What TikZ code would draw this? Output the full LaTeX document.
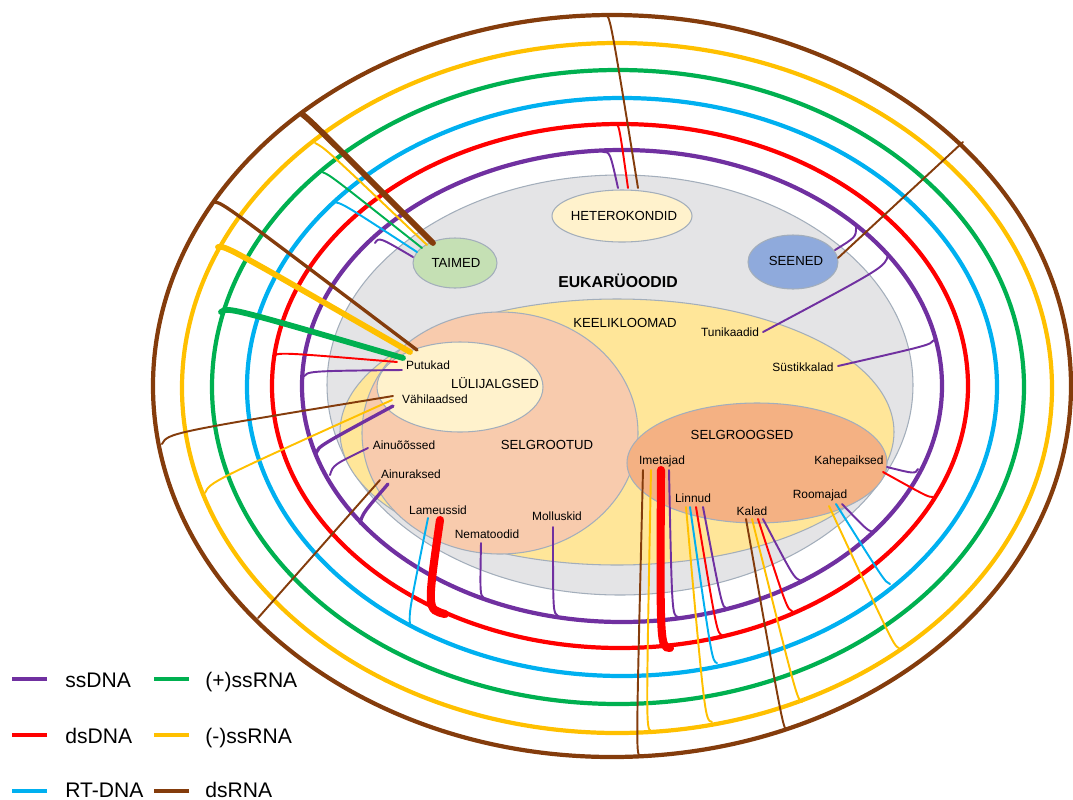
\documentclass[tikz,border=0pt]{standalone}
\usepackage{fontspec}
\setmainfont{Liberation Sans}

\definecolor{ssdnacol}{HTML}{7030A0}
\definecolor{dsdnacol}{HTML}{FF0000}
\definecolor{rtdnacol}{HTML}{00B0F0}
\definecolor{possrnacol}{HTML}{00B050}
\definecolor{negssrnacol}{HTML}{FFC000}
\definecolor{dsrnacol}{HTML}{843C0C}
\definecolor{eukfill}{HTML}{E4E4E6}
\definecolor{keelfill}{HTML}{FFE699}
\definecolor{selgrootfill}{HTML}{F8CBAD}
\definecolor{lylifill}{HTML}{FFF2CC}
\definecolor{selgroogfill}{HTML}{F4B183}
\definecolor{taimfill}{HTML}{C5E0B4}
\definecolor{seenfill}{HTML}{8FAADC}
\definecolor{rimcol}{HTML}{A3AEBB}

\begin{document}
\begin{tikzpicture}[x=0.02cm, y=-0.02cm,
    ring/.style={line width=2.4pt},
    lnk/.style={line width=1.1pt, line cap=round},
    lnkmid/.style={line width=1.9pt, line cap=round},
    lnkfat/.style={line width=3.3pt, line cap=round},
    lnkhuge/.style={line width=4.6pt, line cap=round},
    blob/.style={draw=rimcol, line width=0.6pt},
    grp/.style={font=\fontsize{7.5}{9}\selectfont},
    sp/.style={font=\fontsize{6.8}{8}\selectfont},
    leg/.style={font=\fontsize{12}{14}\selectfont, anchor=base west, inner sep=0pt}]
  \useasboundingbox (0,0) rectangle (1073,799);

  % groups
  \filldraw[blob, fill=eukfill] (620,385) ellipse (293 and 210);
  \filldraw[blob, fill=keelfill] (617,432) ellipse (277 and 133);
  \filldraw[blob, fill=selgrootfill] (500,433) ellipse (138 and 121);
  \filldraw[blob, fill=lylifill] (460,387) ellipse (83 and 45);
  \filldraw[blob, fill=selgroogfill] (757,463) ellipse (130 and 60);
  \filldraw[blob, fill=taimfill] (455,263) ellipse (42 and 25);
  \filldraw[blob, fill=lylifill] (622,216) ellipse (70 and 26);
  \filldraw[blob, fill=seenfill] (793,262) ellipse (45 and 27);

  % rings
  \draw[ring, dsrnacol] (612,386) ellipse (459 and 371);
  \draw[ring, negssrnacol] (617,388) ellipse (435 and 345);
  \draw[ring, possrnacol] (618,387) ellipse (406 and 317);
  \draw[ring, rtdnacol] (622,387) ellipse (375 and 289);
  \draw[ring, dsdnacol] (620,386) ellipse (348 and 262);
  \draw[ring, ssdnacol] (622,386) ellipse (320 and 236);

  % labels
  \node[font=\bfseries\fontsize{9}{11}\selectfont] (eukaryoodid) at (618,281) {EUKARÜOODID};
  \node[grp] (keelikloomad) at (625,323) {KEELIKLOOMAD};
  \node[grp] (taimed) at (456,263) {TAIMED};
  \node[grp] (heterokondid) at (624,216) {HETEROKONDID};
  \node[grp] (seened) at (796,261) {SEENED};
  \node[grp] (lylijalgsed) at (495,383) {LÜLIJALGSED};
  \node[grp] (selgrootud) at (547,445) {SELGROOTUD};
  \node[grp] (selgroogsed) at (742,435) {SELGROOGSED};
  \node[sp] (tunikaadid) at (730,332) {Tunikaadid};
  \node[sp] (systikkalad) at (803,367) {Süstikkalad};
  \node[sp] (putukad) at (428,365) {Putukad};
  \node[sp] (vahilaadsed) at (435,399) {Vähilaadsed};
  \node[sp] (ainuoossed) at (404,445) {Ainuõõssed};
  \node[sp] (ainuraksed) at (411,474) {Ainuraksed};
  \node[sp] (lameussid) at (438,510) {Lameussid};
  \node[sp] (nematoodid) at (487,534) {Nematoodid};
  \node[sp] (molluskid) at (557,516) {Molluskid};
  \node[sp] (imetajad) at (662,461) {Imetajad};
  \node[sp] (linnud) at (693,498) {Linnud};
  \node[sp] (kalad) at (752,511) {Kalad};
  \node[sp] (roomajad) at (820,495) {Roomajad};
  \node[sp] (kahepaiksed) at (849,461) {Kahepaiksed};

  % where the links meet the rings
  \coordinate (taimed-br) at (302,114);
  \coordinate (taimed-ye) at (315,143);
  \coordinate (taimed-gr) at (322,172);
  \coordinate (taimed-bl) at (333,202);
  \coordinate (taimed-pu) at (375,243);
  \coordinate (putukad-br) at (215,202);
  \coordinate (putukad-ye) at (218,247);
  \coordinate (putukad-gr) at (221,312);
  \coordinate (putukad-re) at (273,357);
  \coordinate (putukad-pu) at (303,377);
  \coordinate (vahil-br) at (162,444);
  \coordinate (vahil-ye) at (205,493);
  \coordinate (vahil-pu) at (316,453);
  \coordinate (ainuoo-pu) at (330,475);
  \coordinate (ainur-br) at (258,618);
  \coordinate (ainur-pu) at (360,523);
  \coordinate (lame-bl) at (410,625);
  \coordinate (lame-re) at (445,614);
  \coordinate (nema-pu) at (484,598);
  \coordinate (moll-pu) at (558,616);
  \coordinate (imet-br) at (640,756);
  \coordinate (imet-ye) at (651,731);
  \coordinate (imet-re) at (670,648);
  \coordinate (imet-pu) at (678,617);
  \coordinate (linn-ye) at (712,722);
  \coordinate (linn-bl) at (717,663);
  \coordinate (linn-re) at (722,635);
  \coordinate (linn-pu) at (727,609);
  \coordinate (kala-br) at (787,730);
  \coordinate (kala-ye) at (802,702);
  \coordinate (kala-re) at (793,612);
  \coordinate (kala-pu) at (801,581);
  \coordinate (room-ye) at (899,648);
  \coordinate (room-bl) at (890,584);
  \coordinate (room-pu) at (873,532);
  \coordinate (kahe-pu) at (918,469);
  \coordinate (kahe-re) at (933,497);
  \coordinate (tuni-pu) at (888,255);
  \coordinate (systi-pu) at (934,340);
  \coordinate (seen-pu) at (856,227);
  \coordinate (seen-br) at (963,142);
  \coordinate (hete-pu) at (603,152);
  \coordinate (hete-re) at (615,124);
  \coordinate (hete-br) at (605,15);

  % links
  \draw[lnkfat, dsrnacol] ([shift={(-23,-20)}]taimed.center) .. controls (312,122) .. (taimed-br);
  \draw[lnk, negssrnacol] ([shift={(-29,-18)}]taimed.center) .. controls (325,148) .. (taimed-ye);
  \draw[lnk, possrnacol] ([shift={(-34,-15)}]taimed.center) .. controls (330,175) .. (taimed-gr);
  \draw[lnk, rtdnacol] ([shift={(-39,-11)}]taimed.center) .. controls (342,203) .. (taimed-bl);
  \draw[lnk, ssdnacol] ([shift={(-43,-6)}]taimed.center) .. controls (379,237) .. (taimed-pu);

  \draw[lnkmid, dsrnacol] ([shift={(-11,-15)}]putukad.center) .. controls (224,204) .. (putukad-br);
  \draw[lnkfat, negssrnacol] ([shift={(-18,-13)}]putukad.center) .. controls (226,246) .. (putukad-ye);
  \draw[lnkfat, possrnacol] ([shift={(-25,-7)}]putukad.center) .. controls (228,307) .. (putukad-gr);
  \draw[lnk, dsdnacol] ([shift={(-31,-3)}]putukad.center) .. controls (277,352) .. (putukad-re);
  \draw[lnk, ssdnacol] ([shift={(-26,5)}]putukad.center) .. controls (308,371) .. (putukad-pu);

  \draw[lnk, dsrnacol] ([shift={(-42,-3)}]vahilaadsed.center) .. controls (168,433) .. (vahil-br);
  \draw[lnk, negssrnacol] ([shift={(-43,1)}]vahilaadsed.center) .. controls (210,482) .. (vahil-ye);
  \draw[lnkmid, ssdnacol] ([shift={(-42,7)}]vahilaadsed.center) .. controls (319,446) .. (vahil-pu);

  \draw[lnk, ssdnacol] ([shift={(-36,3)}]ainuoossed.center) .. controls (333,465) .. (ainuoo-pu);
  \draw[lnk, dsrnacol] ([shift={(-31,6)}]ainuraksed.center) -- (ainur-br);
  \draw[lnkmid, ssdnacol] ([shift={(-23,10)}]ainuraksed.center) .. controls (363,513) .. (ainur-pu);

  \draw[lnk, rtdnacol] ([shift={(-10,8)}]lameussid.center) .. controls (409,612) .. (lame-bl);
  \draw[lnkhuge, dsdnacol] ([shift={(2,10)}]lameussid.center) .. controls (427,610) .. (lame-re);
  \draw[lnk, ssdnacol] ([shift={(-6,9)}]nematoodid.center) .. controls (480,595) .. (nema-pu);
  \draw[lnk, ssdnacol] ([shift={(-4,11)}]molluskid.center) .. controls (553,613) .. (moll-pu);

  \draw[lnk, dsrnacol] ([shift={(-19,9)}]imetajad.center) .. controls (636,753) .. (imet-br);
  \draw[lnk, negssrnacol] ([shift={(-11,9)}]imetajad.center) .. controls (646,728) .. (imet-ye);
  \draw[lnkhuge, dsdnacol] ([shift={(-1,9)}]imetajad.center) .. controls (660,647) .. (imet-re);
  \draw[lnk, ssdnacol] ([shift={(7,9)}]imetajad.center) .. controls (672,615) .. (imet-pu);

  \draw[lnk, negssrnacol] ([shift={(-7,9)}]linnud.center) .. controls (705,720) .. (linn-ye);
  \draw[lnk, rtdnacol] ([shift={(-3,9)}]linnud.center) .. controls (712,661) .. (linn-bl);
  \draw[lnk, dsdnacol] ([shift={(3,9)}]linnud.center) .. controls (717,633) .. (linn-re);
  \draw[lnk, ssdnacol] ([shift={(10,9)}]linnud.center) .. controls (722,607) .. (linn-pu);

  \draw[lnk, dsrnacol] ([shift={(-6,8)}]kalad.center) .. controls (783,728) .. (kala-br);
  \draw[lnk, negssrnacol] ([shift={(0,8)}]kalad.center) .. controls (797,699) .. (kala-ye);
  \draw[lnk, dsdnacol] ([shift={(6,8)}]kalad.center) .. controls (787,609) .. (kala-re);
  \draw[lnk, ssdnacol] ([shift={(11,8)}]kalad.center) .. controls (794,578) .. (kala-pu);

  \draw[lnk, negssrnacol] ([shift={(9,11)}]roomajad.center) .. controls (894,646) .. (room-ye);
  \draw[lnk, rtdnacol] ([shift={(16,9)}]roomajad.center) .. controls (885,582) .. (room-bl);
  \draw[lnk, ssdnacol] ([shift={(22,9)}]roomajad.center) .. controls (867,530) .. (room-pu);

  \draw[lnk, ssdnacol] ([shift={(38,6)}]kahepaiksed.center) .. controls (915,474) .. (kahe-pu);
  \draw[lnk, dsdnacol] ([shift={(34,11)}]kahepaiksed.center) .. controls (928,497) .. (kahe-re);

  \draw[lnk, ssdnacol] ([shift={(33,0)}]tunikaadid.center) .. controls (885,267) .. (tuni-pu);
  \draw[lnk, ssdnacol] ([shift={(35,-1)}]systikkalad.center) .. controls (930,345) .. (systi-pu);
  \draw[lnk, ssdnacol] ([shift={(39,-11)}]seened.center) .. controls (856,237) .. (seen-pu);
  \draw[lnk, dsrnacol] ([shift={(42,-3)}]seened.center) -- (seen-br);

  \draw[lnk, ssdnacol] ([shift={(-6,-28)}]heterokondid.center) .. controls (610,152) .. (hete-pu);
  \draw[lnk, dsdnacol] ([shift={(4,-28)}]heterokondid.center) .. controls (619,124) .. (hete-re);
  \draw[lnk, dsrnacol] ([shift={(14,-28)}]heterokondid.center) .. controls (610,15) .. (hete-br);

  % legend
  \node[leg] (l-ssdna) at (65,687) {ssDNA};
  \node[leg] (l-dsdna) at (65,743) {dsDNA};
  \node[leg] (l-rtdna) at (65,797) {RT-DNA};
  \node[leg] (l-possrna) at (205,687) {(+)ssRNA};
  \node[leg] (l-negssrna) at (205,743) {(-)ssRNA};
  \node[leg] (l-dsrna) at (205,797) {dsRNA};
  \begin{scope}[line width=2.8pt]
    \draw[ssdnacol] ([shift={(-18,-8)}]l-ssdna.base west) -- ++(-35,0);
    \draw[dsdnacol] ([shift={(-18,-8)}]l-dsdna.base west) -- ++(-35,0);
    \draw[rtdnacol] ([shift={(-18,-6)}]l-rtdna.base west) -- ++(-35,0);
    \draw[possrnacol] ([shift={(-16,-8)}]l-possrna.base west) -- ++(-35,0);
    \draw[negssrnacol] ([shift={(-16,-8)}]l-negssrna.base west) -- ++(-35,0);
    \draw[dsrnacol] ([shift={(-16,-6)}]l-dsrna.base west) -- ++(-35,0);
  \end{scope}
\end{tikzpicture}
\end{document}
